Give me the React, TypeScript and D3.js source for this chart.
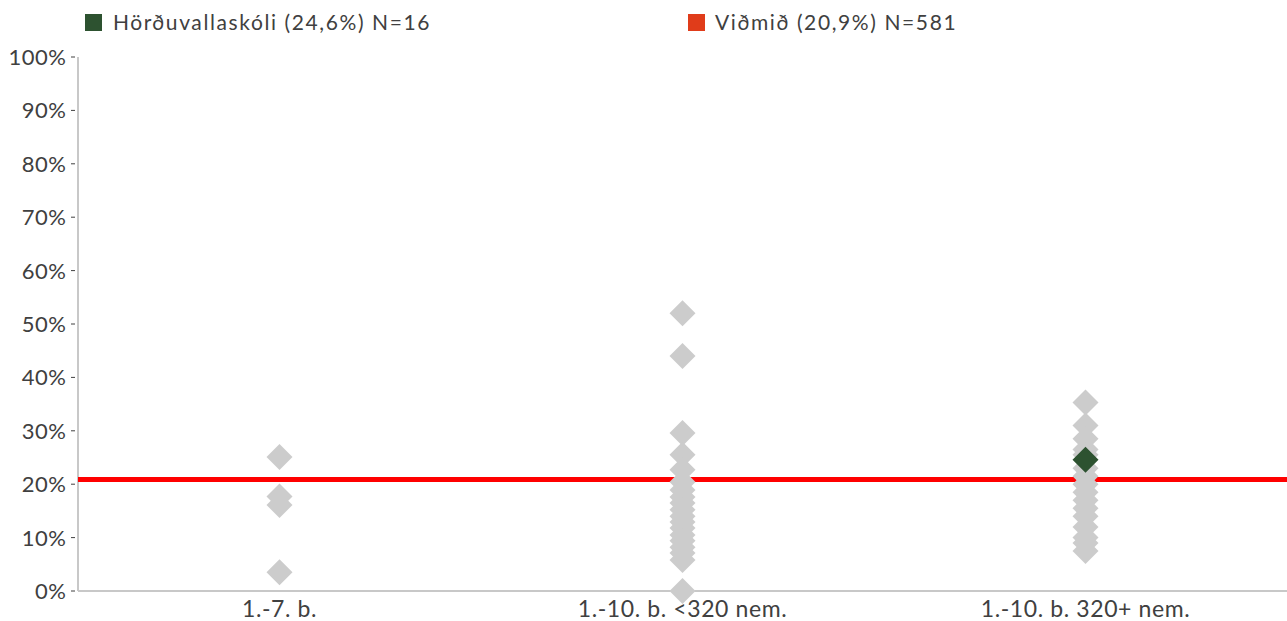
import React from "react";
import * as d3 from "d3";

const categories = ["1.-7. b.", "1.-10. b. <320 nem.", "1.-10. b. 320+ nem."];
const group1 = [25.1, 17.7, 16.1, 3.5];
const group2 = [52, 44, 29.6, 25.5, 22.7, 20.4, 18.9, 17.6, 16.5, 15.2, 14, 12.9, 11.8, 10.5, 9.4, 8.2, 7.1, 5.8, 0];
const group3 = [35.3, 31, 28.5, 26.5, 25.5, 23, 21.5, 20, 18.5, 17, 15.5, 14, 12, 10, 9, 7.5];
const schoolCategory = categories[2];
const schoolValue = 24.6;
const benchmark = 20.9;
const yTicks = [0, 10, 20, 30, 40, 50, 60, 70, 80, 90, 100];
const legendLabels = ["Hörðuvallaskóli (24,6%) N=16", "Viðmið (20,9%) N=581"];

export default function App() {
  const W = 1287, H = 621;
  const left = 78, right = 1287, top = 57, bottom = 591;
  const x = d3.scaleBand().domain(categories).range([left, right]);
  const y = d3.scaleLinear().domain([0, 100]).range([bottom, top]);
  const diamond = d3.symbol(d3.symbolSquare).size(338)() as string;
  const groups = [group1, group2, group3];
  const cx = (c: string) => (x(c) as number) + x.bandwidth() / 2;
  const textColor = "#404040";
  return (
    <svg width={W} height={H} style={{ position: "absolute", left: 0, top: 0 }}>
      <rect x={0} y={0} width={W} height={H} fill="#fff" />
      {/* legend */}
      <rect x={85} y={14} width={17} height={17} fill="#2d5230" />
      <text x={113} y={30} fontFamily="Lato" fontSize={21} letterSpacing={1.6} fill={textColor}>{legendLabels[0]}</text>
      <rect x={688} y={14} width={17} height={17} fill="#e03c1a" />
      <text x={715} y={30} fontFamily="Lato" fontSize={21} letterSpacing={1.6} fill={textColor}>{legendLabels[1]}</text>
      {/* y axis */}
      <line x1={left} x2={left} y1={top} y2={bottom} stroke="#c8c8c8" strokeWidth={2} />
      {yTicks.map((t) => (
        <g key={t}>
          <line x1={71} x2={75} y1={y(t)} y2={y(t)} stroke={textColor} strokeWidth={1} />
          <text x={66.5} y={y(t)} dy="0.36em" textAnchor="end" fontFamily="Lato" fontSize={22} letterSpacing={0.5} fill={textColor}>{t}%</text>
        </g>
      ))}
      <line x1={left} x2={right} y1={bottom} y2={bottom} stroke="#c8c8c8" strokeWidth={2} />
      {categories.map((c) => (
        <text key={c} x={cx(c)} y={617} textAnchor="middle" fontFamily="Lato" fontSize={23} letterSpacing={0.6} fill={textColor}>{c}</text>
      ))}
      {/* benchmark line */}
      <line x1={left} x2={right} y1={y(benchmark)} y2={y(benchmark)} stroke="#ff0000" strokeWidth={5} />
      {groups.map((g, i) =>
        g.map((v, j) => (
          <path key={i + "-" + j} d={diamond} transform={`translate(${cx(categories[i])},${y(v)}) rotate(45)`} fill="#cccccc" />
        ))
      )}
      <path d={diamond} transform={`translate(${cx(schoolCategory)},${y(schoolValue)}) rotate(45)`} fill="#2d5230" />
    </svg>
  );
}
